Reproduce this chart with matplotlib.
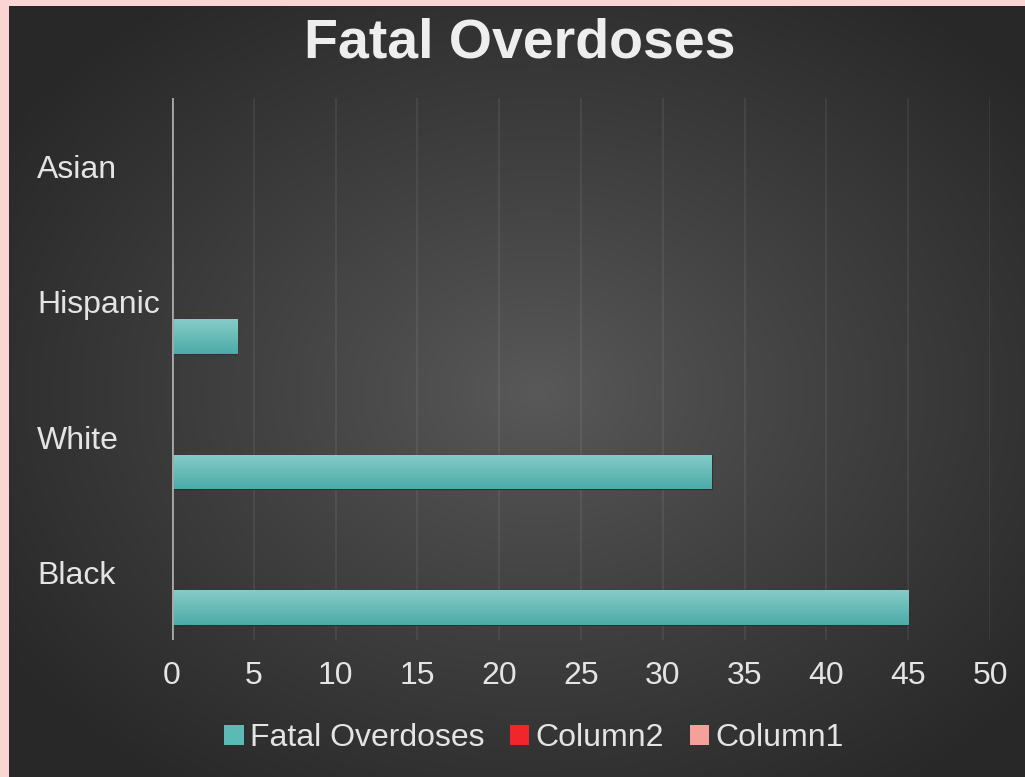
import numpy as np
import matplotlib
matplotlib.use('Agg')
import matplotlib.pyplot as plt
from matplotlib.patches import Patch
from matplotlib.transforms import blended_transform_factory, ScaledTranslation

plt.rcParams['font.family'] = ['Liberation Sans', 'DejaVu Sans']

categories = ['Black', 'White', 'Hispanic', 'Asian']
fatal_overdoses = [45, 33, 4, 0]
column2 = [0, 0, 0, 0]
column1 = [0, 0, 0, 0]
series_names = ['Fatal Overdoses', 'Column2', 'Column1']
series_colors = ['#5bbab6', '#f0262c', '#f4a19c']
x_ticks = [0, 5, 10, 15, 20, 25, 30, 35, 40, 45, 50]

text_color = '#e4e4e4'

fig = plt.figure(figsize=(10.25, 7.77), dpi=100)
fig.patch.set_facecolor('#fbd5d3')

# dark radial background
bg = fig.add_axes([9 / 1025, 0, 1 - 9 / 1025, 1 - 6 / 777])
bg.set_axis_off()
h, w = 400, 520
yy, xx = np.mgrid[0:h, 0:w]
r = np.sqrt(((xx - w * 0.52) / (w * 0.62)) ** 2 + ((yy - h * 0.50) / (h * 0.62)) ** 2)
r = np.clip(r, 0, 1)
val = 0.35 - (0.35 - 0.16) * r ** 0.9
bg.imshow(np.dstack([val, val, val]), aspect='auto', extent=[0, 1, 0, 1])
bg.set_zorder(-10)

ax = fig.add_axes([172 / 1025, 1 - 640 / 777, 818 / 1025, 542 / 777])
ax.set_facecolor('none')

y = np.arange(len(categories))
bar_h = 0.258
offsets = [-0.26, 0.0, 0.26]
all_series = [fatal_overdoses, column2, column1]
for vals, off, col, name in zip(all_series, offsets, series_colors, series_names):
    bars = ax.barh(y + off, vals, height=bar_h, color=col, edgecolor='#303030',
                   linewidth=0.8, label=name, zorder=3)
    if name == 'Fatal Overdoses':
        grad = np.linspace(0, 1, 50).reshape(-1, 1)
        top = np.array([0x85, 0xcc, 0xc8]) / 255
        bot = np.array([0x4c, 0xab, 0xa8]) / 255
        img = top[None, None, :] * (1 - grad[:, :, None]) + bot[None, None, :] * grad[:, :, None]
        for b in bars:
            if b.get_width() <= 0:
                continue
            im = ax.imshow(img, aspect='auto', zorder=4,
                           extent=[b.get_x(), b.get_x() + b.get_width(),
                                   b.get_y(), b.get_y() + b.get_height()])
            im.set_clip_path(b)

ax.set_xlim(0, 50)
ax.set_ylim(-0.5, len(categories) - 0.5)

for t in x_ticks[1:]:
    ax.axvline(t, color='#ffffff', alpha=0.08, linewidth=1.2, zorder=1)
ax.axvline(0, color='#a8a8a8', linewidth=2, zorder=5)

for s in ax.spines.values():
    s.set_visible(False)
ax.set_xticks(x_ticks)
ax.tick_params(axis='x', length=0, pad=15, labelsize=23, labelcolor=text_color)
ax.set_yticks([])

trans = blended_transform_factory(fig.transFigure, ax.transData) + \
    ScaledTranslation(0, -4 / 100, fig.dpi_scale_trans)
for yi, cat in zip(y, categories):
    ax.text(37 / 1025, yi, cat, transform=trans, ha='left', va='center',
            fontsize=23, color=text_color)

fig.text(0.507, 1 - 44 / 777, 'Fatal Overdoses', ha='center', va='center',
         fontsize=40, fontweight='bold', color='#eeeeee')

handles = [Patch(facecolor=c, edgecolor='none') for c in series_colors]
leg = fig.legend(handles, series_names, loc='center', bbox_to_anchor=(0.521, 1 - 738 / 777),
                 ncol=3, frameon=False, fontsize=23, handlelength=0.6, handleheight=0.6,
                 handletextpad=0.2, columnspacing=0.8, labelcolor=text_color)

fig.savefig('out.png', dpi=100, facecolor=fig.get_facecolor())
